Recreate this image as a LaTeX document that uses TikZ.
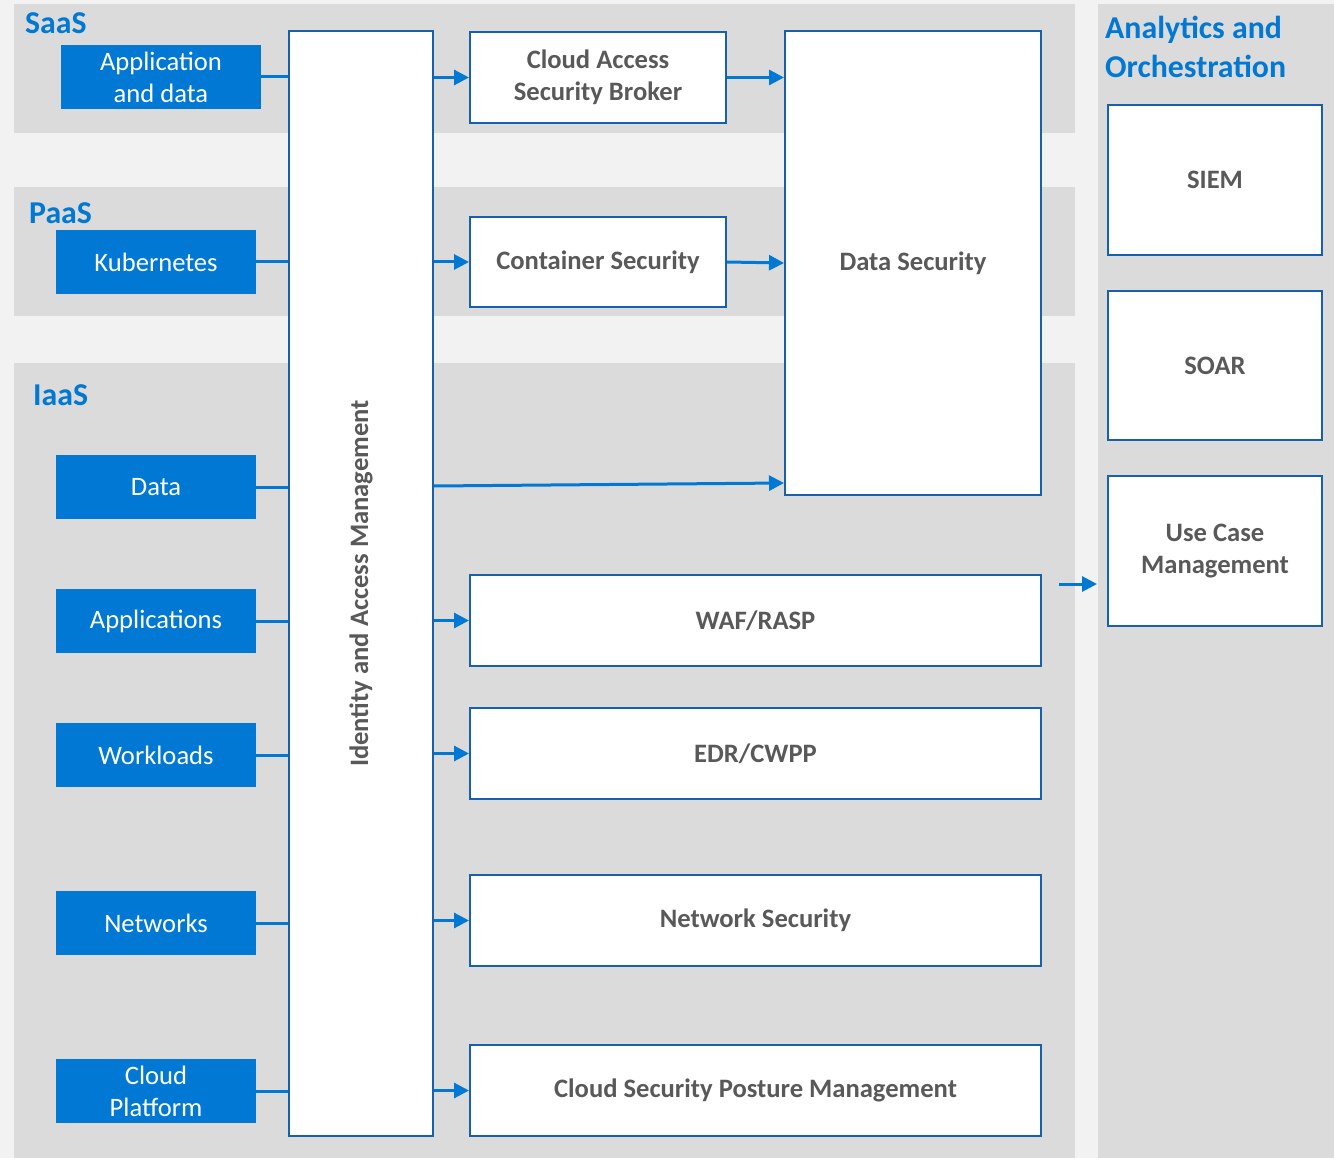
\documentclass[tikz,border=0pt]{standalone}
\usepackage{fontspec}
\setmainfont{Carlito}
\usetikzlibrary{arrows.meta}
\definecolor{pagebg}{RGB}{242,242,242}
\definecolor{bandbg}{RGB}{219,219,219}
\definecolor{mblue}{RGB}{0,120,212}
\definecolor{bordblue}{RGB}{24,96,170}
\definecolor{txtgray}{RGB}{89,89,89}
\tikzset{
  bluebox/.style={fill=mblue, draw=none, text=white, align=center, inner sep=0pt,
    font=\fontsize{26.6}{32}\selectfont},
  whitebox/.style={fill=white, draw=bordblue, line width=2pt, text=txtgray, align=center, inner sep=0pt,
    font=\fontsize{26.6}{32}\selectfont\bfseries},
  grouptitle/.style={text=mblue, anchor=west, inner sep=0pt, align=left,
    font=\fontsize{31.8}{39}\selectfont\bfseries},
  link/.style={draw=mblue, line width=3pt},
  arrowlink/.style={draw=mblue, line width=3pt, -{Triangle[length=15pt,width=15pt]}},
}
\begin{document}
\begin{tikzpicture}[x=1pt,y=-1pt]
\useasboundingbox (0,0) rectangle (1334,1158);
% backgrounds
\fill[pagebg] (0,0) rectangle (1334,1158);
\fill[bandbg] (14,4) rectangle (1075,133);
\fill[bandbg] (14,187) rectangle (1075,316);
\fill[bandbg] (14,363) rectangle (1075,1158);
\fill[bandbg] (1098,4) rectangle (1334,1158);
% titles
\node[grouptitle] (tsaas) at (25,23) {SaaS};
\node[grouptitle] (tpaas) at (29,213) {PaaS};
\node[grouptitle] (tiaas) at (33,395) {IaaS};
\node[grouptitle] (tana) at (1105,47) {Analytics and\\Orchestration};
% IAM
\node[whitebox, minimum width=144pt, minimum height=1105pt] (iam) at (361,583.5) {};
\node[text=txtgray, rotate=90, inner sep=0pt, font=\fontsize{26.6}{32}\selectfont\bfseries] (iamt) at (iam.center) {Identity and Access Management};
% blue boxes
\node[bluebox, minimum width=200pt, minimum height=64pt] (app) at (161,77) {Application\\and data};
\node[bluebox, minimum width=200pt, minimum height=64pt] (kub) at (156,262) {Kubernetes};
\node[bluebox, minimum width=200pt, minimum height=64pt] (dat) at (156,487) {Data};
\node[bluebox, minimum width=200pt, minimum height=64pt] (apps) at (156,621) {Applications};
\node[bluebox, minimum width=200pt, minimum height=64pt] (wl) at (156,755) {Workloads};
\node[bluebox, minimum width=200pt, minimum height=64pt] (net) at (156,923) {Networks};
\node[bluebox, minimum width=200pt, minimum height=64pt] (cp) at (156,1091) {Cloud\\Platform};
% white boxes
\node[whitebox, minimum width=256pt, minimum height=91pt] (casb) at (598,77.5) {Cloud Access\\Security Broker};
\node[whitebox, minimum width=256pt, minimum height=90pt] (cont) at (598,262) {Container Security};
\node[whitebox, minimum width=256pt, minimum height=464pt] (ds) at (913,263) {Data Security};
\node[whitebox, minimum width=571pt, minimum height=91pt] (waf) at (755.5,620.5) {WAF/RASP};
\node[whitebox, minimum width=571pt, minimum height=91pt] (edr) at (755.5,753.5) {EDR/CWPP};
\node[whitebox, minimum width=571pt, minimum height=91pt] (ns) at (755.5,920.5) {Network Security};
\node[whitebox, minimum width=571pt, minimum height=91pt] (cspm) at (755.5,1090.5) {Cloud Security Posture Management};
% right column
\node[whitebox, minimum width=214pt, minimum height=150pt] (siem) at (1215,180) {SIEM};
\node[whitebox, minimum width=214pt, minimum height=149pt] (soar) at (1215,365.5) {SOAR};
\node[whitebox, minimum width=214pt, minimum height=150pt] (ucm) at (1215,551) {Use Case\\Management};
% links from sources into IAM
\draw[link] (app.east) -- (app.east -| iam.west);
\draw[link] (kub.east) -- (kub.east -| iam.west);
\draw[link] (dat.east) -- (dat.east -| iam.west);
\draw[link] (apps.east) -- (apps.east -| iam.west);
\draw[link] (wl.east) -- (wl.east -| iam.west);
\draw[link] (net.east) -- (net.east -| iam.west);
\draw[link] (cp.east) -- (cp.east -| iam.west);
% arrows out of IAM
\draw[arrowlink] (casb.west -| iam.east) -- (casb.west);
\draw[arrowlink] (casb.east) -- (casb.east -| ds.west);
\draw[arrowlink] (cont.west -| iam.east) -- (cont.west);
\draw[arrowlink] (cont.east) -- (ds.west |- 0,263);
\draw[arrowlink] (iam.east |- 0,486) -- (ds.west |- 0,483);
\draw[arrowlink] (waf.west -| iam.east) -- (waf.west);
\draw[arrowlink] (edr.west -| iam.east) -- (edr.west);
\draw[arrowlink] (ns.west -| iam.east) -- (ns.west);
\draw[arrowlink] (cspm.west -| iam.east) -- (cspm.west);
% free arrow toward analytics
\coordinate (fa) at (1059,584);
\coordinate (fb) at (1097,584);
\draw[arrowlink] (fa) -- (fb);
\end{tikzpicture}
\end{document}
